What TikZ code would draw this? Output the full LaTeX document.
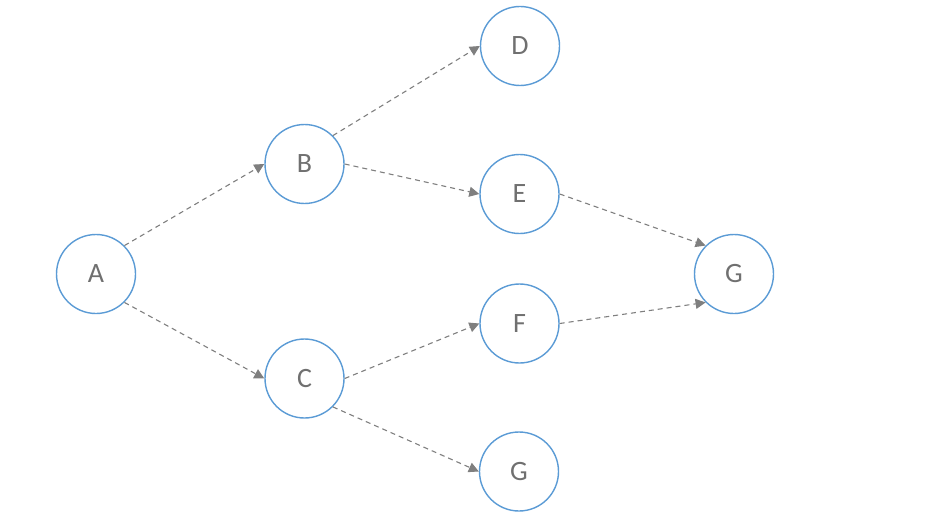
\documentclass[tikz,border=0pt]{standalone}
\usepackage{fontspec}
\setmainfont{Carlito}
\usetikzlibrary{arrows.meta}
\definecolor{circblue}{RGB}{91,155,213}
\definecolor{txtgray}{RGB}{112,112,112}
\definecolor{linegray}{RGB}{127,127,127}
\begin{document}
\begin{tikzpicture}[x=1pt,y=-1pt,
  vert/.style={circle,draw=circblue,line width=1.4pt,minimum size=79pt,inner sep=0pt,
    text=txtgray,font=\fontsize{28}{34}\selectfont},
  link/.style={draw=linegray,line width=1.1pt,dash pattern=on 5pt off 4pt,
    -{Triangle[length=10pt,width=10pt]},shorten >=0pt}]
\useasboundingbox (0,0) rectangle (939,516);
\node[vert] (A) at (96,274) {A};
\node[vert] (B) at (304.5,164) {B};
\node[vert] (C) at (304.5,378.5) {C};
\node[vert] (D) at (520,46) {D};
\node[vert] (E) at (519.5,194) {E};
\node[vert] (F) at (519.5,323.5) {F};
\node[vert] (G1) at (519,471.5) {G};
\node[vert] (G2) at (734,274) {G};
\draw[link] (A.45) -- (B.west);
\draw[link] (A.-45) -- (C.west);
\draw[link] (B.45) -- (D.west);
\draw[link] (B.east) -- (E.west);
\draw[link] (C.east) -- (F.west);
\draw[link] (C.-45) -- (G1.west);
\draw[link] (E.east) -- (G2.135);
\draw[link] (F.east) -- (G2.-135);
\end{tikzpicture}
\end{document}
